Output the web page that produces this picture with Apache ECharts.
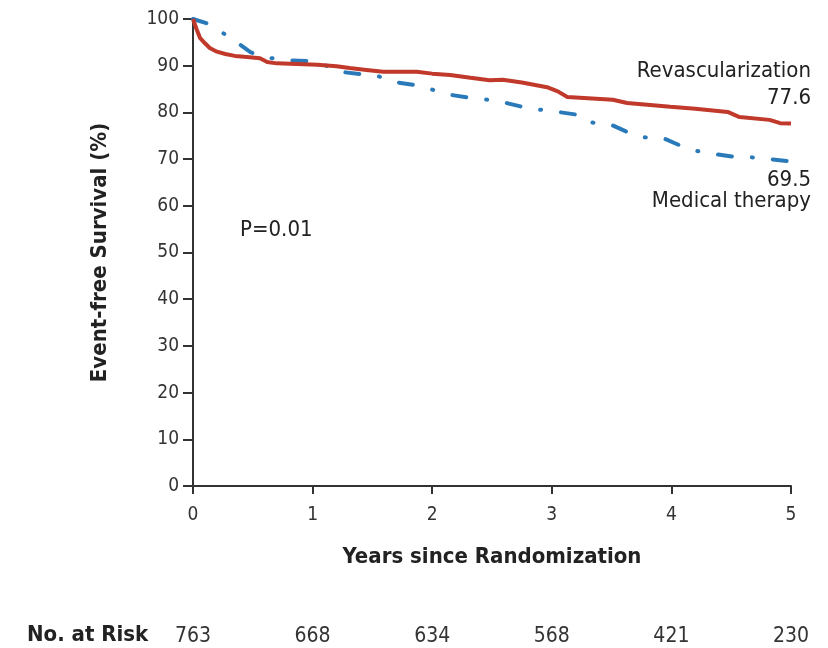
<!DOCTYPE html>
<html>
<head>
<meta charset="utf-8">
<script src="https://cdn.jsdelivr.net/npm/echarts@6/dist/echarts.min.js"></script>
<style>
  html, body { margin: 0; padding: 0; background: #fff; }
  #chart { width: 828px; height: 648px; }
</style>
</head>
<body>
<div id="chart"></div>
<script>
// years since randomization, event-free survival (%)
var revascYears = [0, 0.03, 0.06, 0.1, 0.14, 0.2, 0.27, 0.35, 0.43, 0.56, 0.62, 0.7, 1.04, 1.2, 1.31, 1.45, 1.59, 1.87, 2.0, 2.15, 2.32, 2.48, 2.59, 2.75, 2.96, 3.05, 3.13, 3.51, 3.63, 3.99, 4.2, 4.47, 4.57, 4.82, 4.91, 5.0];
var revascSurv  = [100, 97.8, 95.9, 94.8, 93.8, 93.0, 92.5, 92.1, 91.9, 91.6, 90.8, 90.5, 90.2, 89.9, 89.5, 89.1, 88.7, 88.7, 88.3, 88.0, 87.4, 86.9, 87.0, 86.4, 85.4, 84.5, 83.3, 82.7, 82.0, 81.2, 80.8, 80.1, 79.0, 78.4, 77.7, 77.6];

var medYears = [0, 0.14, 0.24, 0.36, 0.48, 0.58, 0.77, 0.96, 1.06, 1.23, 1.4, 1.52, 1.69, 1.84, 1.96, 2.12, 2.32, 2.42, 2.59, 2.8, 3.05, 3.24, 3.32, 3.5, 3.65, 3.74, 3.93, 4.1, 4.18, 4.36, 4.55, 4.66, 4.82, 5.0];
var medSurv  = [100, 98.9, 97.2, 95.1, 92.9, 91.9, 91.2, 91.0, 90.6, 88.7, 88.2, 88.0, 86.5, 85.9, 85.2, 83.9, 83.1, 82.9, 82.2, 80.9, 80.1, 79.4, 77.9, 77.3, 75.6, 74.7, 74.5, 72.6, 71.9, 71.1, 70.4, 70.4, 70.0, 69.5];

var yearTicks = [0, 1, 2, 3, 4, 5];
var riskCounts = [763, 668, 634, 568, 421, 230];
var seriesNames = ['Revascularization', 'Medical therapy'];
var pValueText = 'P=0.01';

var FONT = '"Liberation Sans Narrow", "DejaVu Sans Condensed", Roboto, sans-serif';
var RED = '#c0392b';
var BLUE = '#2a7ab9';

function pairs(xs, ys) {
  var out = [];
  for (var i = 0; i < xs.length; i++) out.push([xs[i], ys[i]]);
  return out;
}

var chart = echarts.init(document.getElementById('chart'));

var option = {
  animation: false,
  grid: { left: 193, right: 37, top: 19, bottom: 162, containLabel: false },
  xAxis: [{
    type: 'value', min: 0, max: 5, interval: 1,
    name: 'Years since Randomization', nameLocation: 'middle', nameGap: 60,
    nameTextStyle: { fontFamily: FONT, fontSize: 22, fontWeight: 'bold', color: '#222' },
    axisLine: { show: true, lineStyle: { color: '#333', width: 2 } },
    axisTick: { show: true, length: 8, lineStyle: { color: '#333', width: 2 } },
    axisLabel: { fontFamily: FONT, fontSize: 19, color: '#333', margin: 20 },
    splitLine: { show: false }
  }, {
    // number at risk row
    type: 'value', min: 0, max: 5, interval: 1, position: 'bottom', offset: 140,
    axisLine: { show: false }, axisTick: { show: false }, splitLine: { show: false },
    axisLabel: {
      fontFamily: FONT, fontSize: 21, color: '#333', margin: 0,
      formatter: function (v) {
        var i = yearTicks.indexOf(Math.round(v));
        return i >= 0 ? String(riskCounts[i]) : '';
      }
    }
  }],
  yAxis: {
    type: 'value', min: 0, max: 100, interval: 10,
    name: 'Event-free Survival (%)', nameLocation: 'middle', nameGap: 82,
    nameTextStyle: { fontFamily: FONT, fontSize: 22, fontWeight: 'bold', color: '#222' },
    axisLine: { show: true, lineStyle: { color: '#333', width: 2 } },
    axisTick: { show: true, length: 10, lineStyle: { color: '#333', width: 2 } },
    axisLabel: { fontFamily: FONT, fontSize: 19, color: '#333', margin: 14 },
    splitLine: { show: false }
  },
  series: [{
    name: seriesNames[0], type: 'line', data: pairs(revascYears, revascSurv),
    symbol: 'none', z: 3,
    lineStyle: { color: RED, width: 4 }
  }, {
    name: seriesNames[1], type: 'line', data: pairs(medYears, medSurv),
    symbol: 'none', z: 2,
    lineStyle: { color: BLUE, width: 4, type: [14, 20, 1, 20], cap: 'round' }
  }],
  graphic: [
    { type: 'text', left: 240, top: 219, style: { text: pValueText, font: '22px ' + FONT, fill: '#222' } },
    { type: 'text', right: 17, top: 60, style: { text: seriesNames[0], font: '22px ' + FONT, fill: '#222', align: 'right' } },
    { type: 'text', right: 17, top: 87, style: { text: revascSurv[revascSurv.length - 1].toFixed(1), font: '22px ' + FONT, fill: '#222', align: 'right' } },
    { type: 'text', right: 17, top: 169, style: { text: medSurv[medSurv.length - 1].toFixed(1), font: '22px ' + FONT, fill: '#222', align: 'right' } },
    { type: 'text', right: 17, top: 190, style: { text: seriesNames[1], font: '22px ' + FONT, fill: '#222', align: 'right' } },
    { type: 'text', left: 27, top: 624, style: { text: 'No. at Risk', font: 'bold 22px ' + FONT, fill: '#222' } }
  ]
};

chart.setOption(option);
</script>
</body>
</html>
